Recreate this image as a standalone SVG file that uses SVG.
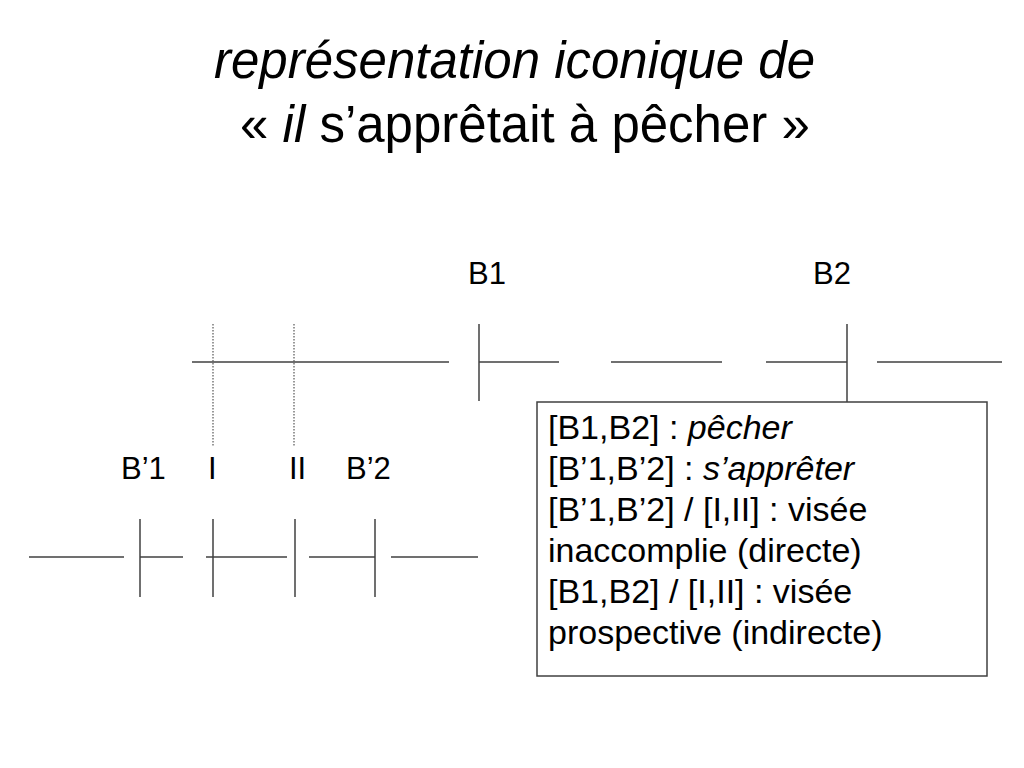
<svg xmlns="http://www.w3.org/2000/svg" width="1024" height="768" viewBox="0 0 1024 768">
<style>
text{font-family:"Liberation Sans",Arial,sans-serif;fill:#000}
.t{font-size:51px}
.lb{font-size:31px}
.bx{font-size:34px}
.it{font-style:italic}
.ln{stroke:#404040;stroke-width:1.5;fill:none}
.dt{stroke:#555;stroke-width:1.2;stroke-dasharray:1.5 1.5;fill:none}
</style>
<rect width="1024" height="768" fill="#fff"/>
<g id="title">
<text class="t it" x="214" y="78" textLength="601" lengthAdjust="spacingAndGlyphs">représentation iconique de</text>
<text class="t" x="240" y="142">« <tspan class="it">il</tspan> s’apprêtait à pêcher »</text>
</g>
<g id="labels-top">
<text class="lb" x="468" y="284">B1</text>
<text class="lb" x="813" y="284">B2</text>
</g>
<g id="labels-bottom">
<text class="lb" x="121" y="479">B’1</text>
<text class="lb" x="208" y="479">I</text>
<text class="lb" x="289" y="479">II</text>
<text class="lb" x="346" y="479">B’2</text>
</g>
<g id="connectors">
<line class="ln" x1="192" y1="362" x2="449" y2="362"/>
<line class="ln" x1="479" y1="362" x2="559" y2="362"/>
<line class="ln" x1="479" y1="324" x2="479" y2="401"/>
<line class="ln" x1="611" y1="362" x2="722" y2="362"/>
<line class="ln" x1="766" y1="362" x2="847" y2="362"/>
<line class="ln" x1="847" y1="324" x2="847" y2="402"/>
<line class="ln" x1="877" y1="362" x2="1002" y2="362"/>
<line class="dt" x1="213" y1="324" x2="213" y2="446"/>
<line class="dt" x1="294" y1="324" x2="294" y2="446"/>
<line class="ln" x1="29" y1="557" x2="124" y2="557"/>
<line class="ln" x1="140" y1="557" x2="183" y2="557"/>
<line class="ln" x1="140" y1="519" x2="140" y2="597"/>
<line class="ln" x1="206" y1="557" x2="287" y2="557"/>
<line class="ln" x1="213" y1="519" x2="213" y2="597"/>
<line class="ln" x1="295" y1="519" x2="295" y2="597"/>
<line class="ln" x1="309" y1="557" x2="375" y2="557"/>
<line class="ln" x1="375" y1="519" x2="375" y2="597"/>
<line class="ln" x1="391" y1="557" x2="478" y2="557"/>
</g>
<g id="legend">
<rect x="537" y="402" width="450" height="274" fill="#fff" stroke="#404040" stroke-width="1.5"/>
<text class="bx" x="548" y="439">[B1,B2] : <tspan class="it">pêcher</tspan></text>
<text class="bx" x="548" y="480">[B’1,B’2] : <tspan class="it">s’apprêter</tspan></text>
<text class="bx" x="548" y="521">[B’1,B’2] / [I,II] : visée</text>
<text class="bx" x="548" y="562">inaccomplie (directe)</text>
<text class="bx" x="548" y="603">[B1,B2] / [I,II] : visée</text>
<text class="bx" x="548" y="644">prospective (indirecte)</text>
</g>
</svg>
